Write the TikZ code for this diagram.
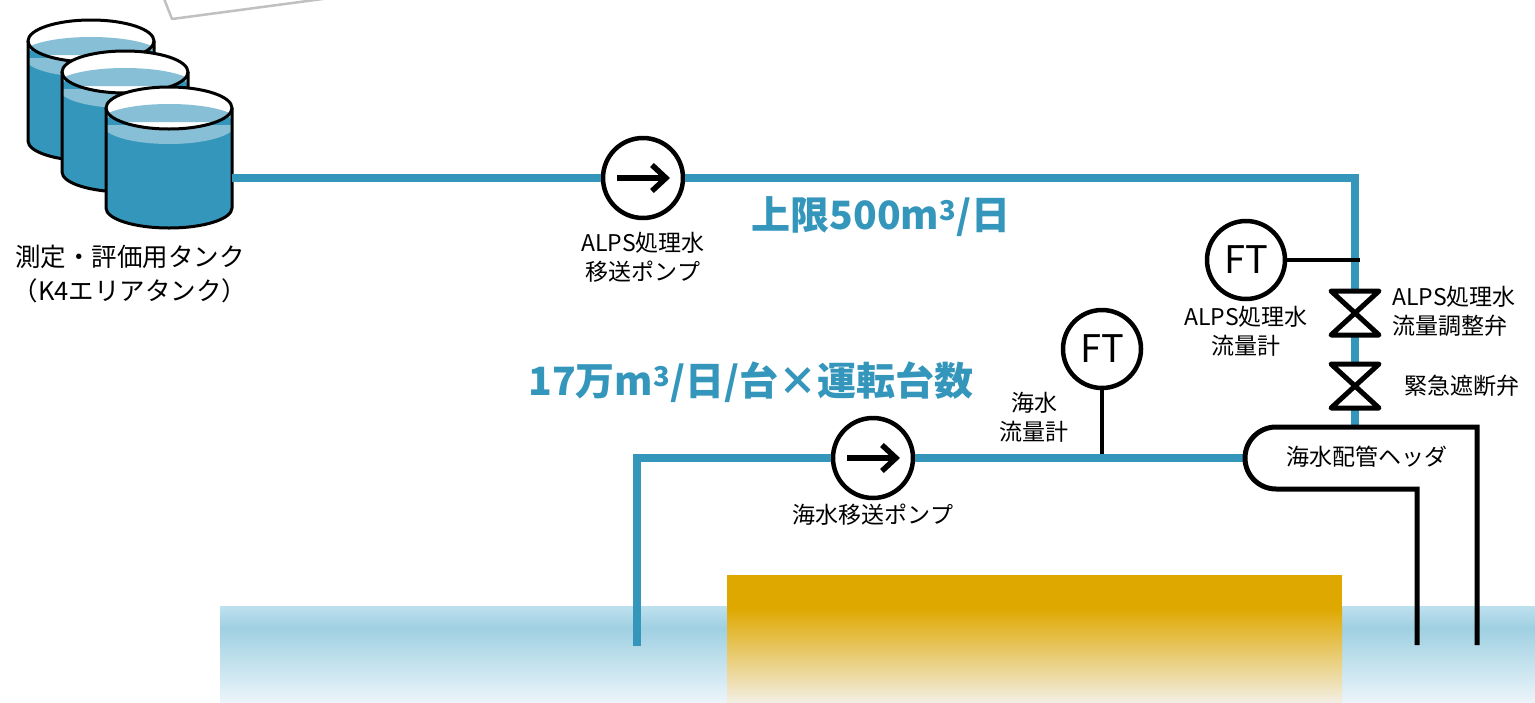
\documentclass[tikz,border=0pt]{standalone}
\usepackage{fontspec}
\setmainfont{Noto Sans CJK JP}
\usetikzlibrary{arrows.meta,positioning}

\definecolor{pipeblue}{HTML}{3596BC}
\definecolor{waterlight}{HTML}{86BFD6}
\definecolor{seatop}{HTML}{BDE0EE}
\definecolor{seablue}{HTML}{9FD0E2}
\definecolor{seafoot}{HTML}{EBF5FA}
\definecolor{gold}{HTML}{DFA800}
\definecolor{goldfoot}{HTML}{F2EEE2}
\definecolor{calloutgray}{HTML}{C0C0C0}

\tikzset{
  pipe/.style={draw=pipeblue, line width=7.5pt},
  tapline/.style={draw=black, line width=4.5pt},
  pump/.style={draw, circle, line width=4.5pt, fill=white, minimum size=80pt, inner sep=0pt},
  ft/.style={draw, circle, line width=4.5pt, fill=white, minimum size=78pt, inner sep=0pt,
    font=\fontsize{38}{38}\selectfont},
  pumparrow/.style={draw, line width=5.5pt, -{Straight Barb[length=14pt,width=26pt]}},
  valve/.style={draw, line width=5pt, line join=round, fill=white},
  lbl/.style={align=center, inner sep=0pt, font=\fontsize{23}{29}\selectfont},
  rate/.style={inner sep=0pt, text=pipeblue, font=\bfseries\fontsize{39}{39}\selectfont},
}

% storage tank: #1 = centre x, #2 = rim y
\newcommand\tank[2]{%
  \begin{scope}
    \clip (#1-63,#2) -- ++(0,100) arc[start angle=180,end angle=0,x radius=63,y radius=20]
      -- ++(0,-100) arc[start angle=0,end angle=-180,x radius=63,y radius=21] -- cycle;
    \fill[pipeblue] (#1-70,#2-30) rectangle (#1+70,#2+130);
    \fill[waterlight] (#1-70,#2-30) rectangle (#1+70,#2+17)
      (#1,#2+17) ellipse[x radius=66,y radius=19];
    \begin{scope}
      \clip (#1,#2) ellipse[x radius=63,y radius=21];
      \fill[white] (#1-70,#2-30) rectangle (#1+70,#2+30);
      \fill[waterlight] (#1,#2+14) ellipse[x radius=70,y radius=18]
        (#1-70,#2+14) rectangle (#1+70,#2+30);
    \end{scope}
  \end{scope}
  \draw[line width=3pt] (#1-63,#2) -- ++(0,100)
    arc[start angle=180,end angle=0,x radius=63,y radius=20] -- ++(0,-100);
  \draw[line width=3pt] (#1,#2) ellipse[x radius=63,y radius=21];
}

\begin{document}
\begin{tikzpicture}[x=1pt, y=-1pt]
  \useasboundingbox (0,0) rectangle (1535,702);

  % sea and discharge area
  \shade[top color=seatop, bottom color=seablue] (220,606) rectangle (1535,628);
  \shade[top color=seablue, bottom color=seafoot] (220,628) rectangle (1535,702);
  \fill[gold] (727,575) rectangle (1342,609);
  \shade[top color=gold, bottom color=goldfoot] (727,608) rectangle (1342,702);

  \draw[calloutgray, line width=2.5pt, line join=round] (163,-4) -- (172,19) -- (330,-2);

  % tanks
  \tank{91}{41}
  \tank{125}{72}
  \tank{169}{108}
  \node[lbl, font=\fontsize{25.5}{34}\selectfont] (tanklbl) at (130,274)
    {測定・評価用タンク\\（K4エリアタンク）};

  % treated water line
  \coordinate (tankout) at (232,178);
  \node[pump] (p1) at (643,178) {};
  \node[lbl, below=12pt of p1] (p1lbl) {ALPS処理水\\移送ポンプ};
  \coordinate (topbend) at (1355,178);
  \node[ft] (ft1) at (1246,260) {FT};
  \node[lbl, below=5pt of ft1] (ft1lbl) {ALPS処理水\\流量計};
  \coordinate (tap1) at (1360,260);
  \coordinate (v1) at (1355,313);
  \coordinate (v2) at (1355,386);
  \coordinate (hdrtop) at (1355,427);

  % sea water line
  \coordinate (intake) at (637,646);
  \coordinate (bend2) at (637,458);
  \node[pump] (p2) at (873,458) {};
  \node[lbl, below=4pt of p2] (p2lbl) {海水移送ポンプ};
  \node[ft] (ft2) at (1102,349) {FT};
  \node[lbl] (ft2lbl) at (1034,417) {海水\\流量計};
  \coordinate (tap2) at (1102,458);
  \coordinate (hdrin) at (1245,458);

  \draw[tapline] (ft2) -- (tap2);
  \draw[pipe] (tankout) -- (p1);
  \draw[pipe] (p1) -- (topbend) -- (hdrtop);
  \draw[pipe] (intake) -- (bend2) -- (p2);
  \draw[pipe] (p2) -- (hdrin);
  \draw[tapline] (ft1) -- (tap1);

  \foreach \p in {p1,p2}
    \draw[pumparrow] ([xshift=-26pt]\p.center) -- ([xshift=27pt]\p.center);

  \foreach \v in {v1,v2}
    \draw[valve] (\v) +(-24,-22) -- +(24,-22) -- +(-24,22) -- +(24,22) -- cycle;
  \node[lbl, anchor=west, align=left] (v1lbl) at (1392,311) {ALPS処理水\\流量調整弁};
  \node[lbl, anchor=west] (v2lbl) at (1404,386) {緊急遮断弁};

  % header and outfall pipes
  \draw[line width=5pt] (1417,645) -- (1417,489) -- (1276,489)
    arc[start angle=90,end angle=270,radius=31] -- (1477,427) -- (1477,645);
  \node[lbl] (hdrlbl) at (1367,457) {海水配管ヘッダ};

  \node[rate] (rate1) at (881,217) {上限500m\textsuperscript{3}/日};
  \node[rate] (rate2) at (751,382) {17万m\textsuperscript{3}/日/台×運転台数};
\end{tikzpicture}
\end{document}
